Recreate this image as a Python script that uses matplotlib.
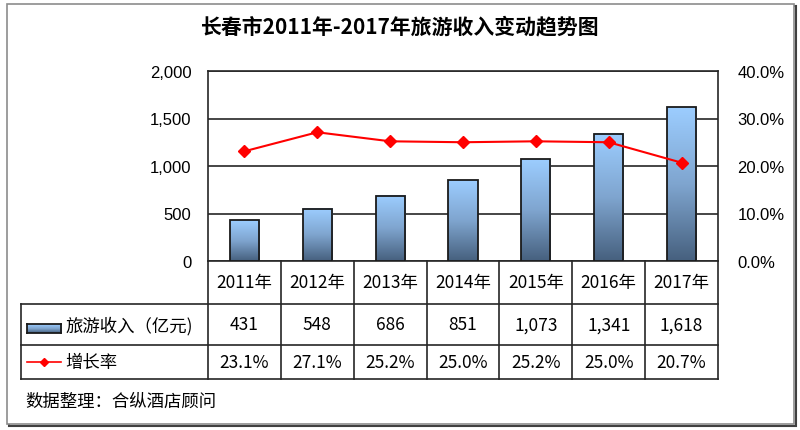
import numpy as np
import matplotlib
matplotlib.use("Agg")
import matplotlib.pyplot as plt
from matplotlib.patches import Rectangle
from matplotlib.lines import Line2D
from matplotlib.ticker import FuncFormatter
import matplotlib.transforms as mtransforms

# 数据
years = ['2011年', '2012年', '2013年', '2014年', '2015年', '2016年', '2017年']
income = [431, 548, 686, 851, 1073, 1341, 1618]          # 旅游收入（亿元）
growth = [23.1, 27.1, 25.2, 25.0, 25.2, 25.0, 20.7]      # 增长率 %
income_labels = ['431', '548', '686', '851', '1,073', '1,341', '1,618']
growth_labels = ['23.1%', '27.1%', '25.2%', '25.0%', '25.2%', '25.0%', '20.7%']

W, H = 800, 431
cjk = ['Noto Sans CJK SC', 'DejaVu Sans']
num = ['Liberation Sans', 'DejaVu Sans']
line_c = '#262626'

fig = plt.figure(figsize=(W / 100, H / 100), dpi=100)

# 外框 + 阴影
fig.patches.append(Rectangle((9 / W, 1 - 427 / H), 787 / W, 420 / H, transform=fig.transFigure,
                             facecolor='none', edgecolor='#404040', lw=1.5))
fig.patches.append(Rectangle((7 / W, 1 - 425 / H), 787 / W, 420 / H, transform=fig.transFigure,
                             facecolor='white', edgecolor='#8c8c8c', lw=1.2))

# 绘图区
x0, x1, y0, y1 = 208, 718, 72, 262
ax = fig.add_axes([x0 / W, 1 - y1 / H, (x1 - x0) / W, (y1 - y0) / H])
ax.set_zorder(2)
ax.patch.set_alpha(0)

x = np.arange(len(years))
bw = 0.4
grad = np.linspace(0, 1, 256).reshape(-1, 1)
cmap = matplotlib.colors.LinearSegmentedColormap.from_list('bar', ['#46607e', '#7fa5cf', '#9ccdff'])
for xi, v in zip(x, income):
    ax.imshow(grad, extent=[xi - bw / 2, xi + bw / 2, 0, v], origin='lower', aspect='auto',
              cmap=cmap, zorder=3)
ax.bar(x, income, width=bw, facecolor='none', edgecolor='#1a1a1a', lw=1.3, zorder=4)

ax.set_xlim(-0.5, len(years) - 0.5)
ax.set_ylim(0, 2000)
ax.set_yticks([0, 500, 1000, 1500, 2000])
ax.yaxis.set_major_formatter(FuncFormatter(lambda v, p: f'{int(v):,}'))
ax.grid(axis='y', color=line_c, lw=1.2, zorder=1)
ax.set_xticks([])
ax.tick_params(axis='y', length=0, pad=12, labelsize=12)
for lab in ax.get_yticklabels():
    lab.set_family(num)
for s in ax.spines.values():
    s.set_color(line_c)
    s.set_linewidth(1.2)

ax2 = ax.twinx()
ax2.set_zorder(3)
ax2.plot(x, np.array(growth) / 100, color='#ff0000', lw=1.5, marker='D', ms=6, zorder=5)
ax2.set_ylim(0, 0.4)
ax2.set_yticks([0, 0.1, 0.2, 0.3, 0.4])
ax2.yaxis.set_major_formatter(FuncFormatter(lambda v, p: f'{v * 100:.1f}%'))
ax2.tick_params(axis='y', length=0, pad=14, labelsize=12)
for lab in ax2.get_yticklabels():
    lab.set_family(num)
for s in ax2.spines.values():
    s.set_visible(False)

# 数据表
ph = y1 - y0
pw = x1 - x0
r0 = -(305 - y1) / ph
r1 = -(346 - y1) / ph
r2 = -(380 - y1) / ph
xl = -(x0 - 21) / pw
trans = mtransforms.blended_transform_factory(ax.transData, ax.transAxes)
lk = dict(color=line_c, lw=1.2, clip_on=False, zorder=6)
for i in range(len(years) + 1):
    ax.add_line(Line2D([i - 0.5, i - 0.5], [0, r2], transform=trans, **lk))
for yy in (r0, r1, r2):
    ax.add_line(Line2D([xl, 1], [yy, yy], transform=ax.transAxes, **lk))
ax.add_line(Line2D([xl, xl], [r0, r2], transform=ax.transAxes, **lk))

fs = 12.5
for xi in x:
    ax.text(xi, r0 / 2, years[xi], transform=trans, ha='center', va='center',
            fontsize=fs, family=cjk)
    ax.text(xi, (r0 + r1) / 2, income_labels[xi], transform=trans, ha='center', va='center',
            fontsize=fs, family=cjk)
    ax.text(xi, (r1 + r2) / 2, growth_labels[xi], transform=trans, ha='center', va='center',
            fontsize=fs, family=cjk)

# 图例
kx0, kx1 = 27, 61
kax = fig.add_axes([kx0 / W, 1 - 334 / H, (kx1 - kx0) / W, 9 / H])
kax.set_zorder(5)
kax.imshow(grad, origin='lower', aspect='auto', cmap=cmap, extent=[0, 1, 0, 1])
kax.set_xticks([])
kax.set_yticks([])
for s in kax.spines.values():
    s.set_color('#1a1a1a')
    s.set_linewidth(1.3)
fig.text(65 / W, 1 - 326 / H, '旅游收入（亿元)', ha='left', va='center', fontsize=fs, family=cjk)

key = Line2D([kx0 / W, (kx0 + kx1) / 2 / W, kx1 / W], [1 - 363 / H] * 3, transform=fig.transFigure,
             color='#ff0000', lw=1.2, marker='D', ms=4.5, markevery=[1], zorder=5)
fig.add_artist(key)
fig.text(65 / W, 1 - 363 / H, '增长率', ha='left', va='center', fontsize=fs, family=cjk)

# 标题与来源
fig.text(0.5, 1 - 27 / H, '长春市2011年-2017年旅游收入变动趋势图', ha='center', va='center',
         fontsize=15, fontweight='bold', family=cjk)
fig.text(25 / W, 1 - 402 / H, '数据整理：合纵酒店顾问', ha='left', va='center', fontsize=fs, family=cjk)

fig.savefig('out.png', dpi=100)
